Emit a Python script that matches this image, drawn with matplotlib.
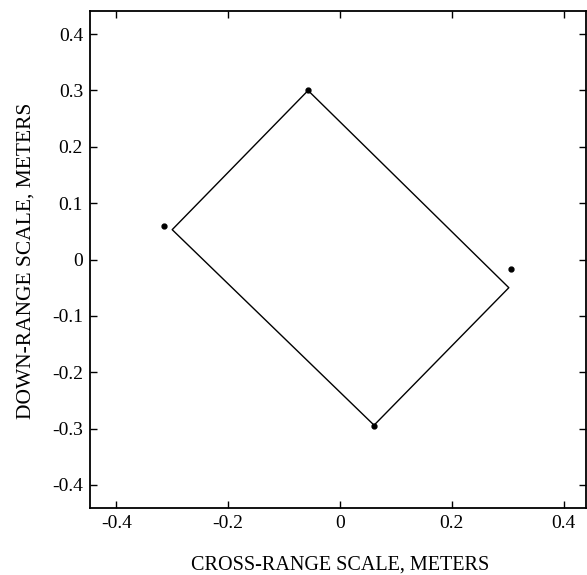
import matplotlib
matplotlib.use("Agg")
import matplotlib.pyplot as plt

plt.rcParams['font.family'] = ['Liberation Serif', 'DejaVu Serif']

# outline of the rectangle (closed)
rect_x = [-0.057, 0.302, 0.061, -0.300, -0.057]
rect_y = [0.300, -0.050, -0.294, 0.053, 0.300]

# measured scatter points
pt_x = [-0.057, 0.305, 0.061, -0.314]
pt_y = [0.301, -0.016, -0.296, 0.060]

xticks = [-0.4, -0.2, 0, 0.2, 0.4]
xtick_labels = ['-0.4', '-0.2', '0', '0.2', '0.4']
yticks = [0.4, 0.3, 0.2, 0.1, 0, -0.1, -0.2, -0.3, -0.4]
ytick_labels = ['0.4', '0.3', '0.2', '0.1', '0', '-0.1', '-0.2', '-0.3', '-0.4']

fig = plt.figure(figsize=(5.87, 5.75), dpi=100)
ax = fig.add_axes([0.1533, 0.1165, 0.845, 0.8643])

ax.plot(rect_x, rect_y, color='black', lw=1.0)
ax.plot(pt_x, pt_y, 'o', color='black', ms=3.5)

ax.set_xlim(-0.447, 0.44)
ax.set_ylim(-0.441, 0.441)
ax.set_xticks(xticks)
ax.set_xticklabels(xtick_labels)
ax.set_yticks(yticks)
ax.set_yticklabels(ytick_labels)
ax.tick_params(direction='in', top=True, right=True, length=5, width=1,
               labelsize=14, pad=5)
for s in ax.spines.values():
    s.set_linewidth(1.3)

ax.set_xlabel('CROSS-RANGE SCALE, METERS', fontsize=14.5, va='center')
ax.xaxis.set_label_coords(0.504, -0.115)
ax.set_ylabel('DOWN-RANGE SCALE, METERS', fontsize=15.5, va='center')
ax.yaxis.set_label_coords(-0.129, 0.497)

fig.savefig('out.png', dpi=100)
